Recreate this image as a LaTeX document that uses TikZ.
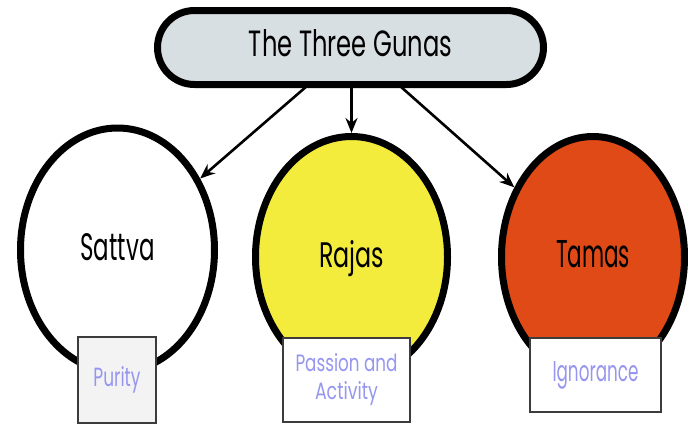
\documentclass[tikz,border=0pt]{standalone}
\usepackage{fontspec}
\setmainfont{Poppins}
\usepackage{graphicx}
\usetikzlibrary{shapes.geometric,arrows.meta}
\definecolor{pillfill}{RGB}{216,223,227}
\definecolor{rajasfill}{RGB}{243,236,60}
\definecolor{tamasfill}{RGB}{224,74,22}
\definecolor{purityfill}{RGB}{243,243,243}
\definecolor{lbltext}{RGB}{150,150,240}
\definecolor{boxline}{RGB}{60,60,60}
\newcommand{\fit}[3]{\resizebox{#1pt}{#2pt}{#3}}
\tikzset{
  guna/.style={ellipse, draw=black, line width=7pt, inner sep=0pt, text depth=7pt},
  qualbox/.style={rectangle, draw=boxline, line width=1.8pt, inner sep=0pt, text=lbltext, fill=white, align=center, font=\fontsize{20}{28}\selectfont},
  arr/.style={draw=black, line width=2.6pt, -{Stealth[length=15pt,width=12pt]}},
}
\begin{document}
\begin{tikzpicture}[x=1pt,y=-1pt]
\useasboundingbox (0,0) rectangle (688,424);
% title pill
\node[draw=black, line width=7pt, fill=pillfill, rectangle, rounded corners=37pt,
      minimum width=386pt, minimum height=74pt, inner sep=0pt, text depth=9pt]
  (title) at (350.5,47.5) {\fit{203}{27}{The Three Gunas}};
% gunas
\node[guna, fill=white, minimum width=194pt, minimum height=244pt] (sattva) at (117.5,250) {\fit{74}{27}{Sattva}};
\node[guna, fill=rajasfill, minimum width=192pt, minimum height=241pt] (rajas) at (351.5,257) {\fit{65}{27}{Rajas}};
\node[guna, fill=tamasfill, minimum width=183pt, minimum height=241pt] (tamas) at (593,257) {\fit{74}{27}{Tamas}};
% quality boxes
\node[qualbox, fill=purityfill, minimum width=78pt, minimum height=86pt] (purity) at (117,380) {\fit{47}{20}{Purity}};
\node[qualbox, minimum width=127pt, minimum height=84pt] (passion) at (346.5,380) {\fit{102}{18}{Passion and}\\\fit{63}{18}{Activity}};
\node[qualbox, minimum width=131pt, minimum height=74pt] (ignorance) at (595.5,375) {\fit{86}{20}{Ignorance}};
% arrows
\coordinate (sL) at (307,86);
\coordinate (sM) at (351.5,86);
\coordinate (sR) at (400,86);
\draw[arr] (sL) -- (sattva);
\draw[arr] (sM) -- (rajas);
\draw[arr] (sR) -- (tamas);
\end{tikzpicture}
\end{document}
